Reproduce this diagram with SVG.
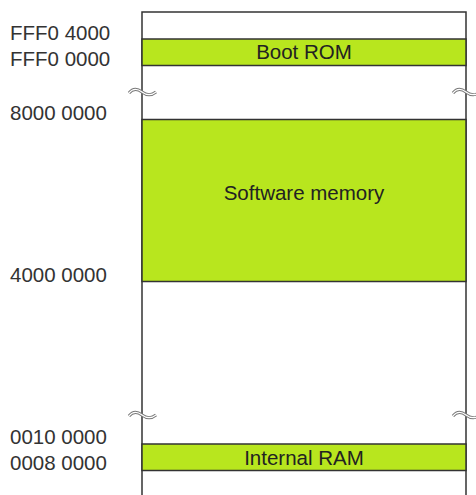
<svg xmlns="http://www.w3.org/2000/svg" width="476" height="495" viewBox="0 0 476 495">
<style>
.lbl{font-family:"Liberation Sans",Arial,sans-serif;font-size:20.5px;fill:#333}
.band{fill:#b8e61e;stroke:#333;stroke-width:1.5}
.ctr{font-family:"Liberation Sans",Arial,sans-serif;font-size:20.5px;fill:#222;text-anchor:middle}
.sq1{fill:none;stroke:#777;stroke-width:3}
.sq2{fill:none;stroke:#fff;stroke-width:1.2}
</style>
<rect width="476" height="495" fill="#fff"/>
<g id="frame">
<path d="M142,500 V12 H466 V500" fill="none" stroke="#333" stroke-width="1.5"/>
</g>
<g id="boot-rom">
<rect class="band" x="142" y="39" width="324" height="26.5"/>
<text class="ctr" x="304" y="58.5">Boot ROM</text>
</g>
<g id="software-memory">
<rect class="band" x="142" y="119.5" width="324" height="162"/>
<text class="ctr" x="304" y="200">Software memory</text>
</g>
<g id="internal-ram">
<rect class="band" x="142" y="444" width="324" height="26.5"/>
<text class="ctr" x="304" y="465">Internal RAM</text>
</g>
<g id="addresses">
<text class="lbl" x="10" y="39.5">FFF0 4000</text>
<text class="lbl" x="10" y="65.5">FFF0 0000</text>
<text class="lbl" x="10" y="119.5">8000 0000</text>
<text class="lbl" x="10" y="281.5">4000 0000</text>
<text class="lbl" x="10" y="444">0010 0000</text>
<text class="lbl" x="10" y="470">0008 0000</text>
</g>
<g id="breaks">
<defs>
<path id="wave" d="M0,3 C4,-2 9,-1 13,2 C17,5 22,6 27,2"/>
</defs>
<g transform="translate(129,90)"><use href="#wave" class="sq1"/><use href="#wave" class="sq2"/></g>
<g transform="translate(453,90)"><use href="#wave" class="sq1"/><use href="#wave" class="sq2"/></g>
<g transform="translate(129,413)"><use href="#wave" class="sq1"/><use href="#wave" class="sq2"/></g>
<g transform="translate(453,413)"><use href="#wave" class="sq1"/><use href="#wave" class="sq2"/></g>
</g>
</svg>
